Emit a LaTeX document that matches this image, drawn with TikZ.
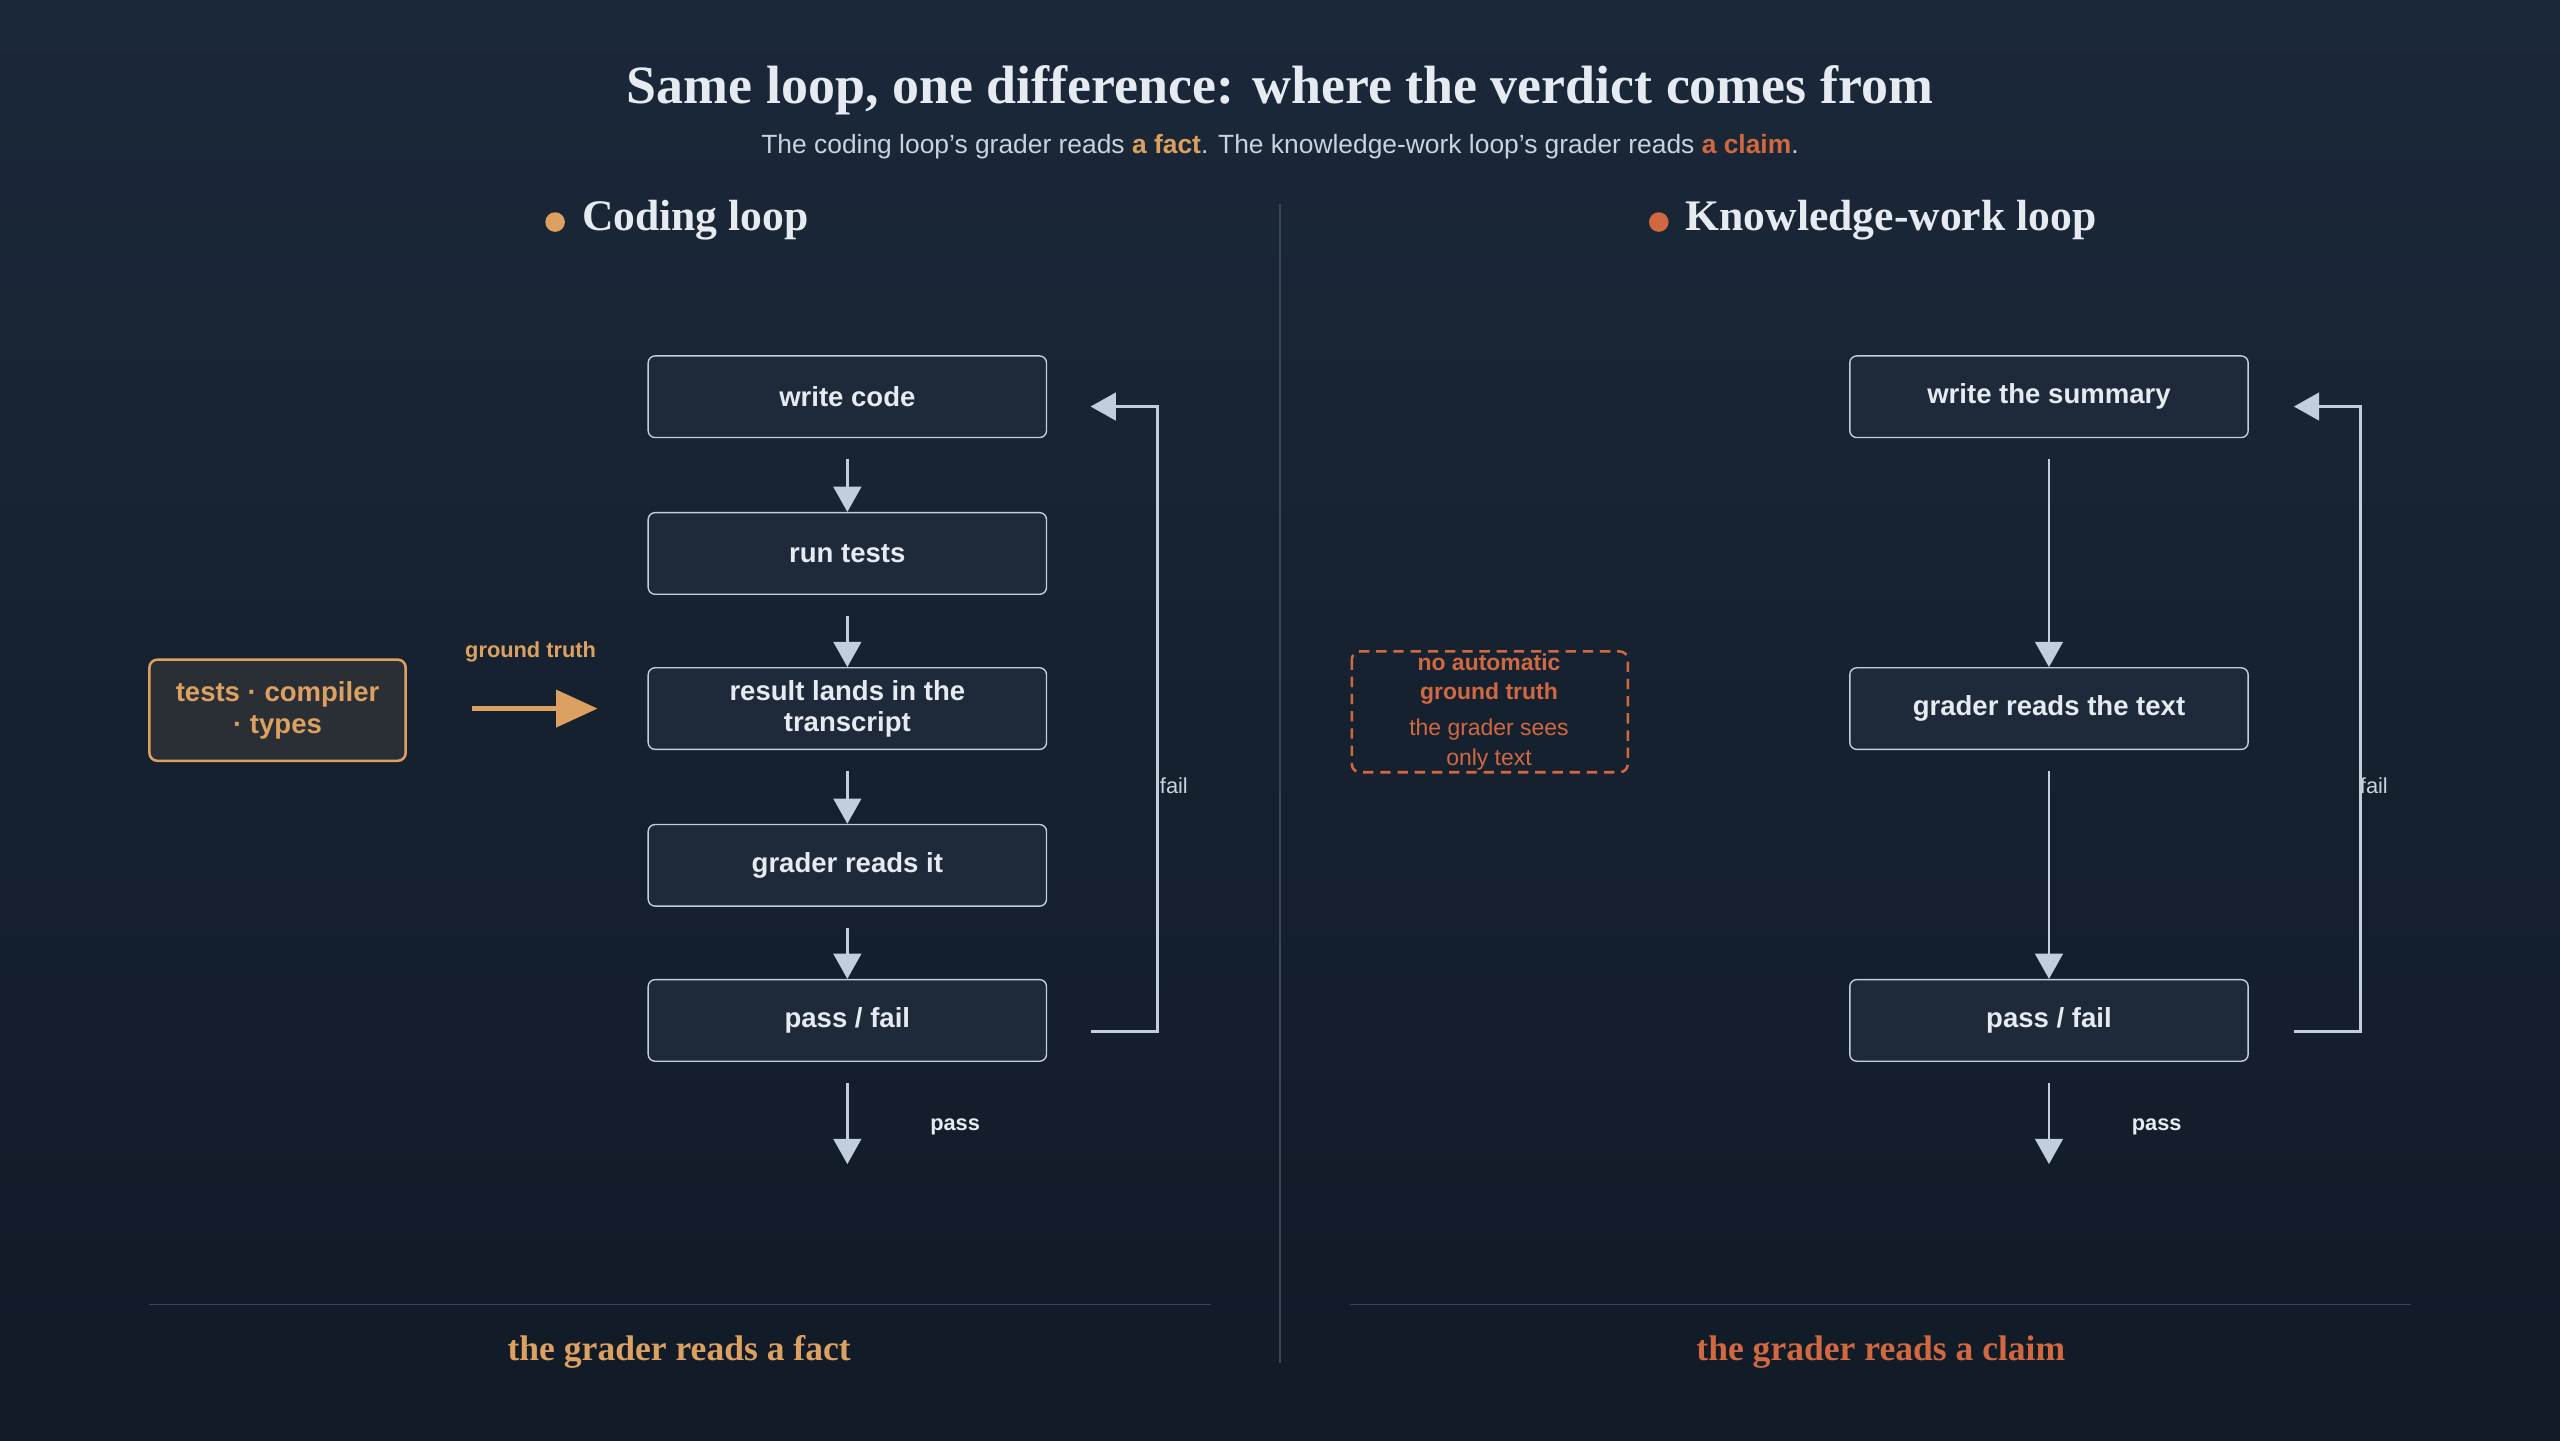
\documentclass[tikz,border=0pt]{standalone}
\usepackage{fontspec}
\setmainfont{Liberation Serif}
\setsansfont{Liberation Sans}
\usetikzlibrary{arrows.meta,positioning}
\definecolor{bgtop}{HTML}{1B2839}
\definecolor{bgbot}{HTML}{111A27}
\definecolor{boxfill}{HTML}{1E293A}
\definecolor{truthfill}{HTML}{2A2E35}
\definecolor{edge}{HTML}{C3CEDC}
\definecolor{ink}{HTML}{E6EBF2}
\definecolor{soft}{HTML}{C9D2DE}
\definecolor{gold}{HTML}{DCA160}
\definecolor{rust}{HTML}{D2683F}
\definecolor{rule}{HTML}{3A4658}
\tikzset{
  stepbox/.style={draw=edge,fill=boxfill,rounded corners=6pt,line width=1.2pt,
    minimum width=12.2cm,minimum height=2.5cm,align=center,text=ink,
    font=\sffamily\fontsize{24}{27}\selectfont\bfseries},
  flow/.style={draw=edge,line width=2.6pt,-{Triangle[length=22pt,width=24pt]}},
  tiny/.style={font=\sffamily\fontsize{19}{22}\selectfont\bfseries,text=soft},
}
\begin{document}
\begin{tikzpicture}[x=0.05cm,y=-0.05cm]
    \shade[top color=bgtop,bottom color=bgbot] (0,0) rectangle (1568,882);
    \useasboundingbox (0,0) rectangle (1568,882);
    % header
    \node[text=ink,font=\fontsize{47}{52}\selectfont\bfseries] (title) at (784,55) {Same loop, one difference: where the verdict comes from};
    \node[text=soft,font=\sffamily\fontsize{23}{27}\selectfont] (sub) at (784,90) {The coding loop's grader reads \textcolor{gold}{\bfseries a fact}. The knowledge-work loop's grader reads \textcolor{rust}{\bfseries a claim}.};
    \draw[rule,line width=1pt] (784,125) -- (784,835);
    \fill[gold] (340,136) circle (6);
    \node[text=ink,font=\fontsize{38}{42}\selectfont\bfseries,anchor=west] (hcode) at (354,135) {Coding loop};
    \fill[rust] (1016,136) circle (6);
    \node[text=ink,font=\fontsize{38}{42}\selectfont\bfseries,anchor=west] (hknow) at (1030,135) {Knowledge-work loop};

    % coding loop
    \node[stepbox] (c1) at (519,243) {write code};
    \node[stepbox] (c2) at (519,339) {run tests};
    \node[stepbox] (c3) at (519,434) {result lands in the\\transcript};
    \node[stepbox] (c4) at (519,530) {grader reads it};
    \node[stepbox] (c5) at (519,625) {pass / fail};
    \foreach \a/\b in {c1/c2,c2/c3,c3/c4,c4/c5}
        \draw[flow] ([yshift=-0.65cm]\a.south) -- (\b.north);
    \coordinate (cout) at (519,713);
    \draw[flow] ([yshift=-0.65cm]c5.south) -- (cout);
    \node[tiny,text=ink] (cpass) at (585,690) {pass};
    \coordinate (cfa) at (668,632);
    \coordinate (cfb) at (668,249);
    \draw[flow] (cfa) -- (709,632) -- (709,249) -- (cfb);
    \node[tiny,font=\sffamily\fontsize{19}{22}\selectfont] (cfail) at (719,481) {fail};

    \node[draw=gold,fill=truthfill,line width=2.2pt,rounded corners=7pt,minimum width=7.85cm,minimum height=3.1cm,
      align=center,text=gold,font=\sffamily\fontsize{24}{28}\selectfont\bfseries] (truth) at (170,435) {tests · compiler\\· types};
    \coordinate (tin) at (366,434);
    \draw[draw=gold,line width=3.8pt,-{Triangle[length=36pt,width=32pt]}] (289,434) -- (tin);
    \node[tiny,text=gold] (gt) at (325,399) {ground truth};

    % knowledge-work loop
    \node[stepbox] (k1) at (1255,243) {write the summary};
    \node[stepbox] (k2) at (1255,434) {grader reads the text};
    \node[stepbox] (k3) at (1255,625) {pass / fail};
    \draw[flow] ([yshift=-0.65cm]k1.south) -- (k2.north);
    \draw[flow] ([yshift=-0.65cm]k2.south) -- (k3.north);
    \coordinate (kout) at (1255,713);
    \draw[flow] ([yshift=-0.65cm]k3.south) -- (kout);
    \node[tiny,text=ink] (kpass) at (1321,690) {pass};
    \coordinate (kfa) at (1405,632);
    \coordinate (kfb) at (1405,249);
    \draw[flow] (kfa) -- (1446,632) -- (1446,249) -- (kfb);
    \node[tiny,font=\sffamily\fontsize{19}{22}\selectfont] (kfail) at (1454,481) {fail};

    \draw[rust,line width=2.2pt,dash pattern=on 9pt off 6pt,rounded corners=7pt] (828,399) rectangle (997,473);
    \node[text=rust,font=\sffamily\fontsize{20}{26}\selectfont\bfseries,align=center] (noauto) at (912,416) {no automatic\\ground truth};
    \node[text=rust,font=\sffamily\fontsize{20}{26}\selectfont,align=center] (sees) at (912,456) {the grader sees\\only text};

    % footer
    \draw[rule,line width=1pt] (91,799) -- (742,799);
    \draw[rule,line width=1pt] (827,799) -- (1477,799);
    \node[text=gold,font=\fontsize{31}{36}\selectfont\bfseries] (fcode) at (416,828) {the grader reads a fact};
    \node[text=rust,font=\fontsize{31}{36}\selectfont\bfseries] (fknow) at (1152,828) {the grader reads a claim};
\end{tikzpicture}
\end{document}
